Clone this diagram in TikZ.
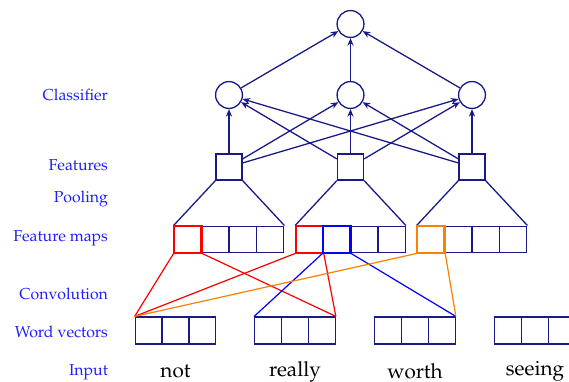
\documentclass[tikz,border=0pt]{standalone}
\usepackage[T1]{fontenc}
\usepackage{mathpazo}
\usetikzlibrary{arrows.meta}

\definecolor{netblue}{RGB}{25,25,135}
\definecolor{labelblue}{RGB}{30,30,255}
\definecolor{convorange}{RGB}{255,128,0}

\tikzset{
  unit/.style={circle, draw=netblue, line width=0.75pt, minimum size=15.6pt, inner sep=0pt},
  feat/.style={rectangle, draw=netblue, line width=0.75pt, minimum size=15.1pt, inner sep=0pt},
  cell/.style={rectangle, draw=netblue, line width=0.75pt, minimum width=15.9pt, minimum height=15.5pt, inner sep=0pt},
  wcell/.style={rectangle, draw=netblue, line width=0.75pt, minimum size=15.6pt, inner sep=0pt},
  lbl/.style={anchor=east, text=labelblue, font=\fontsize{9.2}{11}\selectfont},
  word/.style={font=\large},
  link/.style={draw=netblue, line width=0.75pt, -{Stealth[length=4.4pt,width=3.6pt]}},
  pool/.style={draw=netblue, line width=0.75pt},
  conv/.style={line width=0.7pt},
  hl/.style={line width=1.3pt}
}

\begin{document}
\begin{tikzpicture}[x=0.581pt, y=-0.581pt]
  \useasboundingbox (0,0) rectangle (569,382);

  % network
  \node[unit] (out) at (350.5,24) {};
  \foreach \i/\x in {1/229,2/350.5,3/472} {
    \node[unit] (c\i) at (\x,95) {};
    \node[feat] (f\i) at (\x,167) {};
    \foreach \j in {1,...,4}
      \node[cell] (m\i\j) at ({\x+27.4*(\j-2.5)},239.5) {};
  }

  % words
  \foreach \i/\x/\w in {1/175.5/not,2/295/really,3/415/worth,4/535/seeing} {
    \foreach \j in {1,2,3}
      \node[wcell] (w\i\j) at ({\x+26.8*(\j-2)},330.5) {};
    \node[word] (t\i) at (\x,371.5) {\w};
  }

  \foreach \i in {1,2,3} {
    \draw[link] (c\i) -- (out);
    \foreach \k in {1,2,3}
      \draw[link] (f\i) -- (c\k);
    \draw[pool] (f\i.south west) -- (m\i1.north west);
    \draw[pool] (f\i.south east) -- (m\i4.north east);
  }

  % convolution windows
  \draw[conv, red] (m11.south west) -- (w11.north west);
  \draw[conv, red] (m11.south east) -- (w23.north east);
  \draw[conv, red] (m21.south west) -- (w11.north west);
  \draw[conv, red] (m21.south east) -- (w23.north east);
  \draw[conv, blue] (m22.south west) -- (w21.north west);
  \draw[conv, blue] (m22.south east) -- (w33.north east);
  \draw[conv, convorange] (m31.south west) -- (w11.north west);
  \draw[conv, convorange] (m31.south east) -- (w33.north east);

  \node[cell, hl, draw=red] (h1) at (m11) {};
  \node[cell, hl, draw=red] (h2) at (m21) {};
  \node[cell, hl, draw=blue] (h3) at (m22) {};
  \node[cell, hl, draw=convorange] (h4) at (m31) {};

  % labels
  \node[lbl] (lclass) at (114,95) {Classifier};
  \node[lbl] (lfeat) at (114,165) {Features};
  \node[lbl] (lpool) at (114,199.5) {Pooling};
  \node[lbl] (lmaps) at (114,238) {Feature maps};
  \node[lbl] (lconv) at (114,294) {Convolution};
  \node[lbl] (lword) at (114,331.5) {Word vectors};
  \node[lbl] (linput) at (114,372) {Input};
\end{tikzpicture}
\end{document}
